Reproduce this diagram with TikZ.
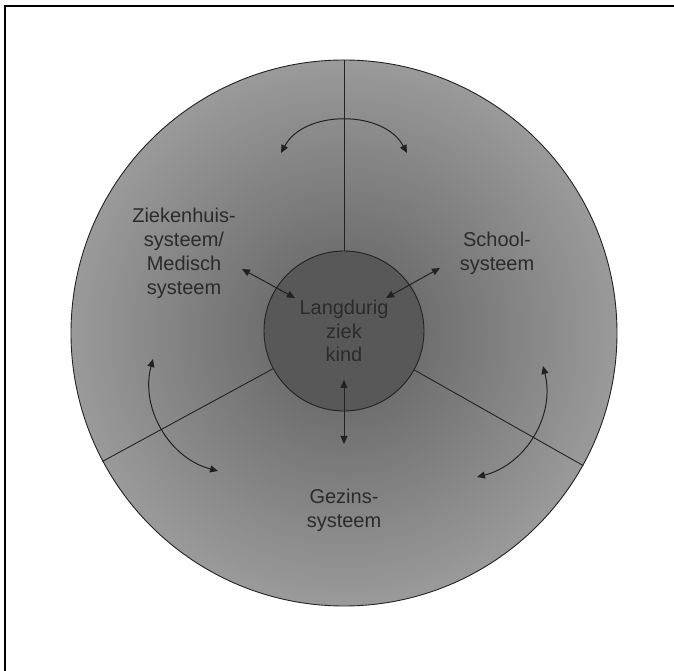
\documentclass[tikz,border=0pt]{standalone}
\usepackage{fontspec}
\setmainfont{Liberation Sans}
\usepackage{xcolor}
\usepackage{tikz}
\usetikzlibrary{arrows.meta,positioning}
\definecolor{inkc}{HTML}{222222}
\definecolor{textc}{HTML}{2B2B2B}
\definecolor{darkc}{HTML}{5E5E5E}
\definecolor{lightc}{HTML}{9A9A9A}
\definecolor{kidc}{HTML}{585858}
\tikzset{
  dar/.style={{Triangle[length=8pt,width=7pt]}-{Triangle[length=8pt,width=7pt]},line width=1pt,inkc},
  lbl/.style={font=\fontsize{20}{24}\selectfont,text=textc,align=center,inner sep=0pt},
  sep/.style={inkc,line width=0.9pt}
}

\begin{document}
\begin{tikzpicture}[x=1pt,y=1pt]
\useasboundingbox (-344,-338) rectangle (330,333);
\draw[line width=2pt] (-339,-338)--(-339,326.5)--(330,326.5);
\node[circle,draw=inkc,line width=0.9pt,inner color=darkc,outer color=lightc,minimum size=546pt,inner sep=0pt] (ring) at (0,0) {};
\node[circle,draw=inkc,line width=0.9pt,fill=kidc,minimum size=160pt,inner sep=0pt,
  font=\fontsize{20}{23.5}\selectfont,text=textc,align=center] (kid) at (0,2) {Langdurig\\ziek\\kind};
\draw[sep] (kid.90)--(ring.90);
\draw[sep] (kid.208)--(ring.208);
\draw[sep] (kid.-29.5)--(ring.-29.5);
% labels
\node[lbl] (zkh) at (-160,80) {Ziekenhuis-\\systeem/\\Medisch\\systeem};
\node[lbl] (school) at (153,80) {School-\\systeem};
\node[lbl] (gezin) at (0,-177) {Gezins-\\systeem};
% arrows
\coordinate (topL) at (-63,180); \coordinate (topR) at (63,180);
\coordinate (lfT) at (-191,-26); \coordinate (lfB) at (-126,-138);
\coordinate (rtT) at (199,-33); \coordinate (rtB) at (133,-144);
\coordinate (zA) at (-102,64); \coordinate (zB) at (-49,35);
\coordinate (sA) at (96,65); \coordinate (sB) at (42,35);
\coordinate (gA) at (0,-47); \coordinate (gB) at (0,-111);
\draw[dar] (topL) to[bend left=62] (topR);
\draw[dar] (lfT) to[bend right=45] (lfB);
\draw[dar] (rtT) to[bend left=45] (rtB);
\draw[dar] (zA)--(zB);
\draw[dar] (sA)--(sB);
\draw[dar] (gA)--(gB);
\end{tikzpicture}
\end{document}
